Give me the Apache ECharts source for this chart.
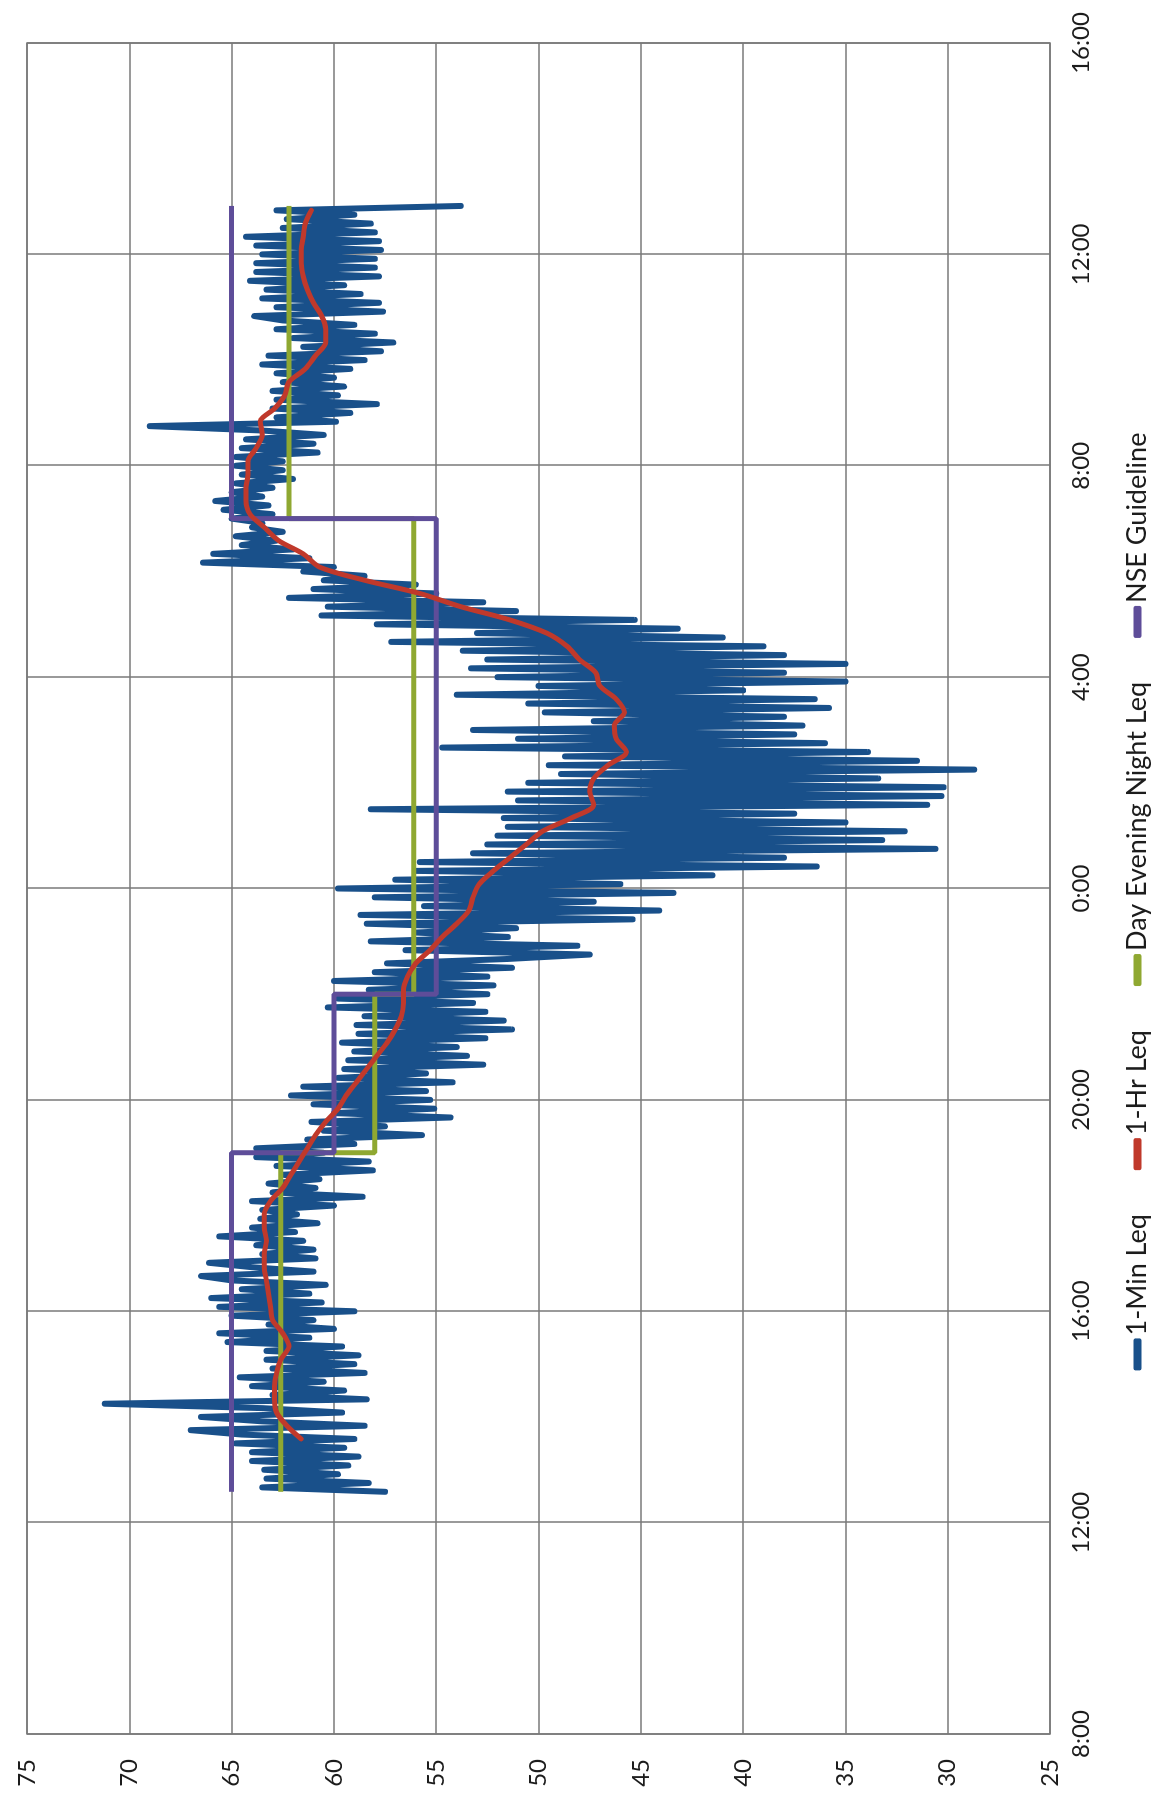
<!DOCTYPE html>
<html>
<head>
<meta charset="utf-8">
<script src="https://cdn.jsdelivr.net/npm/echarts@6.0.0/dist/echarts.min.js"></script>
<style>
  html, body { margin: 0; padding: 0; background: #fff; overflow: hidden; width: 1163px; height: 1803px; }
  /* The chart is laid out landscape and turned a quarter turn so time runs bottom to top. */
  #chart { position: absolute; left: 0; top: 0; width: 1803px; height: 1163px;
           transform-origin: 0 0; transform: translate(0px, 1803px) rotate(-90deg); }
</style>
</head>
<body>
<div id="chart"></div>
<script>
// Time is counted in minutes after 08:00 on the first day of monitoring.
const timeTickLabels = ['8:00', '12:00', '16:00', '20:00', '0:00', '4:00', '8:00', '12:00', '16:00'];

// 1-minute Leq (dBA), one reading every 5 minutes from 12:35 to 12:55 next day
const minLeqStart = 275;
const minLeqStep = 5;
const minLeq = [
  // 12:35 - 16:00
  57.5, 63.5, 58.3, 63.3, 59.8, 63.4, 59.3, 64.0, 58.8, 64.0, 59.5, 64.8, 59.0, 64.5, 67.0, 58.5,
  63.5, 66.5, 59.6, 63.5, 71.2, 58.4, 63.0, 59.5, 64.0, 60.5, 64.6, 58.5, 63.0, 59.0, 63.3, 58.8,
  63.3, 59.6, 65.2, 61.2, 65.6, 60.0, 63.2, 61.0, 65.0, 59.0,
  // 16:05 - 20:00
  65.6, 60.6, 66.0, 61.2, 64.5, 60.4, 65.0, 66.5, 61.0, 64.0, 66.1, 60.9, 63.5, 61.0, 63.8, 61.5,
  65.6, 61.9, 64.0, 60.8, 63.6, 61.8, 63.5, 60.0, 64.0, 58.6, 63.0, 60.9, 63.2, 60.7, 62.5, 58.1,
  62.8, 58.3, 63.8, 60.5, 63.8, 59.0, 61.3, 55.7, 60.5, 57.5, 61.1, 54.3, 60.0, 55.1, 61.0, 55.3,
  // 20:05 - 0:00
  62.1, 55.5, 61.5, 54.2, 59.8, 55.5, 59.5, 52.7, 59.3, 53.5, 59.0, 54.0, 59.6, 52.6, 58.8, 51.3,
  58.9, 51.7, 58.5, 52.6, 60.3, 53.2, 59.8, 52.5, 58.3, 52.2, 60.0, 52.5, 58.0, 51.3, 57.4, 51.5,
  47.5, 56.5, 48.1, 58.2, 51.5, 56.0, 51.1, 58.4, 45.4, 58.7, 44.1, 55.6, 47.3, 58.0, 43.4, 59.8,
  // 0:05 - 4:00
  46.0, 57.0, 41.5, 56.0, 36.4, 55.8, 38.0, 53.2, 30.6, 52.5, 33.2, 52.0, 32.1, 51.5, 35.0, 51.7,
  37.5, 58.2, 31.0, 51.0, 30.3, 51.5, 30.2, 50.5, 33.4, 48.9, 28.7, 49.5, 31.5, 48.7, 33.9, 54.7,
  36.0, 51.0, 37.5, 53.2, 37.1, 47.3, 38.0, 49.7, 35.8, 50.5, 36.5, 54.0, 40.0, 50.0, 35.0, 52.0,
  // 4:05 - 8:00
  38.0, 53.3, 35.0, 52.5, 38.0, 53.7, 39.0, 57.2, 41.0, 53.0, 43.2, 57.9, 45.3, 60.6, 51.1, 60.3,
  52.7, 62.2, 55.0, 61.0, 56.0, 60.5, 58.5, 61.5, 60.0, 66.4, 61.2, 65.9, 62.0, 64.5, 62.8, 64.8,
  62.5, 64.0, 63.5, 65.0, 63.0, 65.4, 63.2, 65.8, 63.5, 65.0, 63.0, 64.8, 62.0, 64.5, 62.5, 64.8,
  // 8:05 - 12:55
  62.5, 64.8, 60.8, 64.5, 61.0, 64.3, 60.5, 63.5, 69.0, 59.9, 62.8, 59.2, 63.0, 57.9, 62.8, 59.8,
  63.0, 59.5, 62.5, 60.0, 62.8, 59.2, 63.5, 58.5, 63.2, 57.7, 61.5, 57.1, 62.0, 58.0, 62.8, 59.0,
  62.5, 63.9, 57.6, 62.8, 57.8, 63.5, 58.7, 63.3, 59.5, 64.1, 57.8, 63.8, 58.0, 63.8, 58.0, 63.5,
  57.7, 63.8, 57.8, 64.3, 58.0, 62.5, 58.2, 62.3, 59.0, 62.8, 53.8
];

// Rolling 1-hour Leq (dBA), every 15 minutes from 13:35 to 12:50 next day
const hrLeqStart = 335;
const hrLeqStep = 15;
const hrLeq = [
  61.6, 62.3, 62.8, 62.9, 62.9, 62.8, 62.6, 62.2, 62.5, 63.0, 63.1, 63.2, 63.3, 63.4, 63.4, 63.3,
  63.4, 63.4, 63.1, 62.5, 62.1, 61.7, 61.3, 60.9, 60.4, 59.8, 59.4, 58.9, 58.4, 57.9, 57.4, 57.0,
  56.7, 56.6, 56.6, 56.4, 56.0, 55.3, 54.7, 54.0, 53.4, 53.2, 52.9, 52.2, 51.4, 50.6, 49.8, 48.4,
  47.3, 47.5, 47.3, 46.6, 45.7, 46.2, 46.3, 45.8, 46.2, 47.0, 47.2, 48.0, 48.6, 49.6, 51.4, 53.8,
  55.8, 58.5, 60.7, 61.5, 62.7, 63.4, 64.1, 64.3, 64.3, 64.2, 64.2, 63.8, 63.5, 63.6, 62.9, 62.4,
  62.2, 61.4, 60.9, 60.4, 60.4, 60.6, 61.0, 61.3, 61.5, 61.6, 61.6, 61.5, 61.4, 61.1
];

// Assessment periods: day from start, evening 19:00, night 22:00, day 07:00, end 12:55
const periodTimes = [275, 660, 840, 1380, 1735];
const denLeq = [62.6, 58.0, 56.1, 62.2, 62.2];
const nseGuideline = [65, 60, 55, 65, 65];

const pairs = (start, step, values) => values.map((v, i) => [start + i * step, v]);
const steps = (times, values) => times.map((t, i) => [t, values[i]]);

const gridColor = '#787878';
const textColor = '#1c1c1c';
const fontFamily = 'Lato, "Open Sans", sans-serif';

const chart = echarts.init(document.getElementById('chart'), null, { renderer: 'canvas' });
chart.setOption({
  animation: false,
  backgroundColor: '#ffffff',
  textStyle: { fontFamily: fontFamily },
  grid: {
    left: 69, right: 43, top: 27, bottom: 113,
    show: true, borderColor: gridColor, borderWidth: 1.5, backgroundColor: 'transparent'
  },
  xAxis: {
    type: 'value', min: 0, max: 1920, interval: 240,
    axisLine: { show: false }, axisTick: { show: false },
    splitLine: { show: true, lineStyle: { color: gridColor, width: 1.5 } },
    axisLabel: {
      margin: 19, fontSize: 24, color: textColor, fontFamily: fontFamily,
      formatter: v => timeTickLabels[Math.round(v / 240)]
    }
  },
  yAxis: {
    type: 'value', min: 25, max: 75, interval: 5,
    axisLine: { show: false }, axisTick: { show: false },
    splitLine: { show: true, lineStyle: { color: gridColor, width: 1.5 } },
    axisLabel: { margin: 25, fontSize: 24, color: textColor, fontFamily: fontFamily }
  },
  legend: {
    left: 'center', bottom: 7, itemGap: 44, itemWidth: 32, itemHeight: 8,
    icon: 'roundRect',
    textStyle: { fontSize: 27, color: textColor, fontFamily: fontFamily, padding: [0, 0, 0, -2] },
    data: ['1-Min Leq', '1-Hr Leq', 'Day Evening Night Leq', 'NSE Guideline']
  },
  series: [
    {
      name: '1-Min Leq', type: 'line', symbol: 'none', z: 2,
      data: pairs(minLeqStart, minLeqStep, minLeq),
      itemStyle: { color: '#19508a' },
      lineStyle: { color: '#19508a', width: 6, cap: 'round', join: 'round' }
    },
    {
      name: '1-Hr Leq', type: 'line', symbol: 'none', z: 5, smooth: 0.3,
      data: pairs(hrLeqStart, hrLeqStep, hrLeq),
      itemStyle: { color: '#c0392b' },
      lineStyle: { color: '#c0392b', width: 5, cap: 'round', join: 'round' }
    },
    {
      name: 'Day Evening Night Leq', type: 'line', symbol: 'none', z: 3, step: 'end',
      data: steps(periodTimes, denLeq),
      itemStyle: { color: '#8fa831' },
      lineStyle: { color: '#8fa831', width: 5 }
    },
    {
      name: 'NSE Guideline', type: 'line', symbol: 'none', z: 4, step: 'end',
      data: steps(periodTimes, nseGuideline),
      itemStyle: { color: '#5e4d99' },
      lineStyle: { color: '#5e4d99', width: 5 }
    }
  ]
});
</script>
</body>
</html>
